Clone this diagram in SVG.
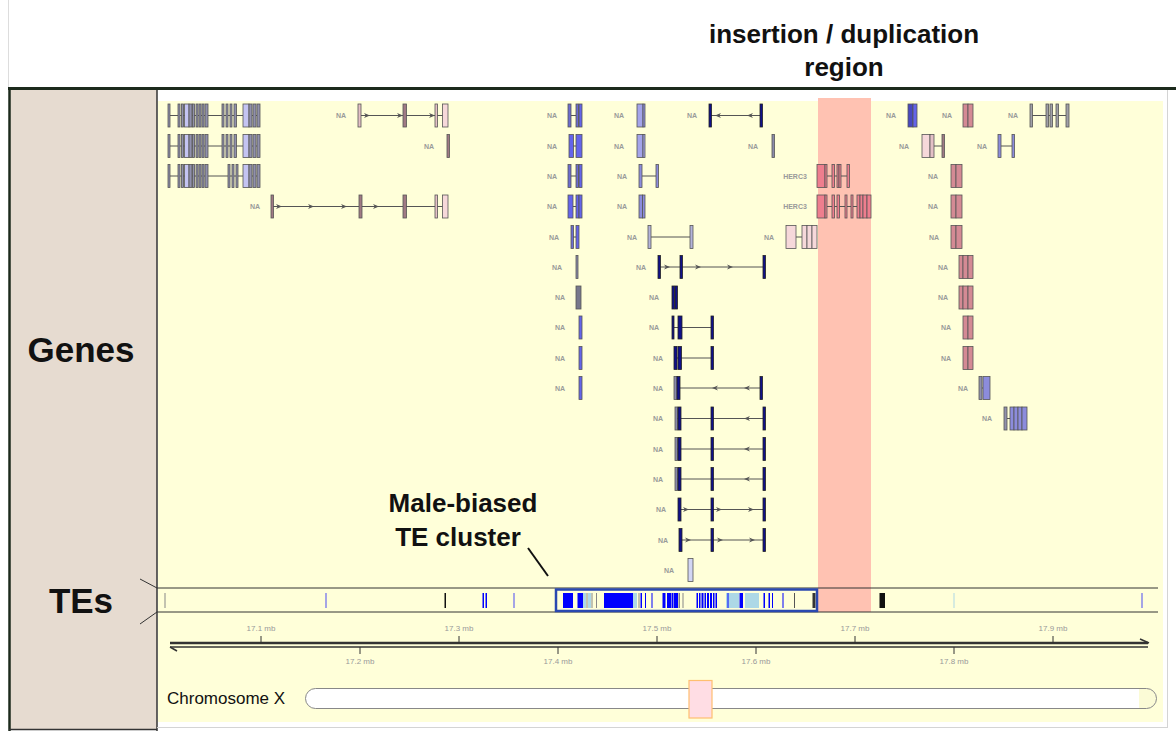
<svg xmlns="http://www.w3.org/2000/svg" xmlns:xlink="http://www.w3.org/1999/xlink" width="1176" height="731" viewBox="0 0 1176 731">
<style>
.e{stroke:#555;stroke-width:0.8}
.in{stroke:#555;stroke-width:1;fill:none}
.na{font-family:"Liberation Sans",Arial,sans-serif;font-weight:bold;font-size:7px;fill:#9a9a9a;text-anchor:middle}
.tk{font-family:"Liberation Sans",Arial,sans-serif;font-size:8px;fill:#999;text-anchor:middle}
.big{font-family:"Liberation Sans",Arial,sans-serif;font-weight:bold;fill:#111;text-anchor:middle}
.g{fill:#9090ac}.lv{fill:#c4c4f2}.bm{fill:#6c6cd0}.bl{fill:#6464ea}.nb{fill:#4848c0}.lv2{fill:#a4a4ea}
.lb{fill:#8c8cdc}.lg{fill:#b4b4da}.nv{fill:#10108a;stroke:#222}.gb{fill:#8a8aaa}.dg{fill:#78788c}
.mv{fill:#a07a84}.pk{fill:#f6d8da}.pk2{fill:#e4c0c6}.rp{fill:#d48a94}.rd{fill:#ee7e8e}.g2{fill:#a0a0a8}.lv3{fill:#d2d6f4}
.tb{fill:#0000ff}.tl{fill:#add8e6}.tg{fill:#888}.tk2{fill:#111}
.ax{stroke:#333;fill:none}
</style>
<defs>
<path id="ar" d="M-3,-2.5 L3,0 L-3,2.5 L-1.2,0 Z" fill="#555"/>
<path id="al" d="M3,-2.5 L-3,0 L3,2.5 L1.2,0 Z" fill="#555"/>
<g id="clA">
<path class="in" d="M169 0H259"/>
<rect class="e g" x="168" y="-11.5" width="2" height="23"/>
<rect class="e g" x="178" y="-11.5" width="2" height="23"/>
<rect class="e g" x="181.5" y="-11.5" width="2" height="23"/>
<rect class="e lv" x="184.5" y="-11.5" width="4.5" height="23"/>
<rect class="e g" x="189" y="-11.5" width="3" height="23"/>
<rect class="e g" x="192.5" y="-11.5" width="2" height="23"/>
<rect class="e g" x="196" y="-11.5" width="2" height="23"/>
<rect class="e g" x="199" y="-11.5" width="2" height="23"/>
<rect class="e g" x="202" y="-11.5" width="2" height="23"/>
<rect class="e g" x="205" y="-11.5" width="3" height="23"/>
<rect class="e g" x="222" y="-11.5" width="2" height="23"/>
<rect class="e g" x="226" y="-11.5" width="2" height="23"/>
<rect class="e g" x="230" y="-11.5" width="2" height="23"/>
<rect class="e g" x="234" y="-11.5" width="2.5" height="23"/>
<rect class="e lv" x="243" y="-11.5" width="6" height="23"/>
<rect class="e g" x="249" y="-11.5" width="3" height="23"/>
<rect class="e g" x="253" y="-11.5" width="3" height="23"/>
<rect class="e g" x="257" y="-11.5" width="3" height="23"/>
</g>
<g id="clB">
<path class="in" d="M169 0H259"/>
<rect class="e g" x="168" y="-11.5" width="2" height="23"/>
<rect class="e g" x="178" y="-11.5" width="2" height="23"/>
<rect class="e g" x="181.5" y="-11.5" width="2" height="23"/>
<rect class="e lv" x="184.5" y="-11.5" width="4.5" height="23"/>
<rect class="e g" x="189" y="-11.5" width="3" height="23"/>
<rect class="e g" x="192.5" y="-11.5" width="2" height="23"/>
<rect class="e g" x="196" y="-11.5" width="2" height="23"/>
<rect class="e g" x="199" y="-11.5" width="2" height="23"/>
<rect class="e g" x="202" y="-11.5" width="2" height="23"/>
<rect class="e g" x="205" y="-11.5" width="3" height="23"/>
<rect class="e g" x="228" y="-11.5" width="2" height="23"/>
<rect class="e g" x="232" y="-11.5" width="2" height="23"/>
<rect class="e g" x="236" y="-11.5" width="2" height="23"/>
<rect class="e lv" x="243" y="-11.5" width="6" height="23"/>
<rect class="e g" x="249" y="-11.5" width="3" height="23"/>
<rect class="e g" x="253" y="-11.5" width="3" height="23"/>
<rect class="e g" x="257" y="-11.5" width="3" height="23"/>
</g>
<g id="navL">
<path class="in" d="M676 0H764"/>
<rect class="e gb" x="675" y="-11.5" width="2.5" height="23"/>
<rect class="e nv" x="678" y="-11.5" width="3" height="23"/>
<rect class="e nv" x="711" y="-11.5" width="2.5" height="23"/>
<use xlink:href="#al" x="747"/>
<rect class="e nv" x="763" y="-11.5" width="2.5" height="23"/>
</g>
<clipPath id="chrclip"><rect x="305.5" y="688.5" width="851" height="20" rx="10"/></clipPath>
</defs>

<g id="background">
<rect x="0" y="0" width="1176" height="731" fill="#ffffff"/>
<line x1="8.5" y1="0" x2="8.5" y2="88" stroke="#dddddd" stroke-width="1"/>
<rect x="9" y="89" width="148" height="640" fill="#e6dbd0"/>
<line x1="9.5" y1="88" x2="9.5" y2="731" stroke="#1c2a1c" stroke-width="2.5"/>
<line x1="157" y1="89" x2="157" y2="731" stroke="#333" stroke-width="1.5"/>
<line x1="9" y1="729.5" x2="157" y2="729.5" stroke="#333" stroke-width="1.5"/>
<line x1="157" y1="727.5" x2="1167" y2="727.5" stroke="#d4d4d4" stroke-width="1"/>
<line x1="1167.5" y1="90" x2="1167.5" y2="728" stroke="#d4d4d4" stroke-width="1"/>
<line x1="8" y1="88.5" x2="1176" y2="88.5" stroke="#1c2a1c" stroke-width="3"/>
<rect x="158" y="101" width="1005" height="621" fill="#ffffd9"/>
<rect x="818" y="98" width="53" height="514" fill="#ffc2b2"/>
</g>

<g id="title">
<text class="big" x="844" y="43" font-size="26">insertion / duplication</text>
<text class="big" x="844" y="76" font-size="26">region</text>
</g>

<g id="track-labels">
<text class="big" x="81" y="362" font-size="35">Genes</text>
<text class="big" x="81" y="613" font-size="35">TEs</text>
<line x1="140" y1="579" x2="157" y2="588" stroke="#333" stroke-width="1"/>
<line x1="140" y1="624" x2="157" y2="612" stroke="#333" stroke-width="1"/>
</g>

<g id="gene-row-1" transform="translate(0,115.5)">
<use xlink:href="#clA"/>
<text class="na" x="341" y="2.5">NA</text>
<path class="in" d="M360 0H447"/>
<use xlink:href="#ar" x="367"/><use xlink:href="#ar" x="400"/><use xlink:href="#ar" x="432"/>
<rect class="e pk2" x="358" y="-11.5" width="3" height="23"/>
<rect class="e mv" x="403" y="-11.5" width="3.5" height="23"/>
<rect class="e pk2" x="435" y="-11.5" width="2.5" height="23"/>
<rect class="e pk" x="442.5" y="-11.5" width="5.5" height="23"/>
<text class="na" x="552" y="2.5">NA</text>
<path class="in" d="M570 0H577"/>
<rect class="e bm" x="568" y="-11.5" width="3" height="23"/>
<rect class="e bm" x="576" y="-11.5" width="2.5" height="23"/>
<rect class="e bl" x="579" y="-11.5" width="3" height="23"/>
<text class="na" x="619" y="2.5">NA</text>
<rect class="e lv2" x="637" y="-11.5" width="6" height="23"/>
<rect class="e lb" x="643" y="-11.5" width="2" height="23"/>
<text class="na" x="692" y="2.5">NA</text>
<path class="in" d="M710 0H761"/>
<use xlink:href="#al" x="718"/><use xlink:href="#al" x="750"/>
<rect class="e nv" x="709" y="-11.5" width="2.5" height="23"/>
<rect class="e nv" x="760" y="-11.5" width="2.5" height="23"/>
<text class="na" x="891" y="2.5">NA</text>
<rect class="e nb" x="908" y="-11.5" width="5" height="23"/>
<rect class="e bl" x="913" y="-11.5" width="4" height="23"/>
<text class="na" x="947" y="2.5">NA</text>
<rect class="e rp" x="963" y="-11.5" width="5" height="23"/>
<rect class="e rp" x="968" y="-11.5" width="5" height="23"/>
<text class="na" x="1013" y="2.5">NA</text>
<path class="in" d="M1031 0H1068"/>
<rect class="e g2" x="1030" y="-11.5" width="2.5" height="23"/>
<rect class="e g2" x="1046" y="-11.5" width="2.5" height="23"/>
<rect class="e g2" x="1050" y="-11.5" width="2.5" height="23"/>
<rect class="e g2" x="1056" y="-11.5" width="2.5" height="23"/>
<rect class="e g2" x="1066" y="-11.5" width="3" height="23"/>
</g>

<g id="gene-row-2" transform="translate(0,146)">
<use xlink:href="#clA"/>
<text class="na" x="429" y="2.5">NA</text>
<rect class="e mv" x="447" y="-11.5" width="2.5" height="23"/>
<text class="na" x="552" y="2.5">NA</text>
<path class="in" d="M572 0H577"/>
<rect class="e bl" x="569" y="-11.5" width="4.5" height="23"/>
<rect class="e bl" x="576" y="-11.5" width="6" height="23"/>
<text class="na" x="619" y="2.5">NA</text>
<rect class="e lv2" x="637" y="-11.5" width="6" height="23"/>
<rect class="e lv2" x="643" y="-11.5" width="2" height="23"/>
<text class="na" x="753" y="2.5">NA</text>
<rect class="e gb" x="772" y="-11.5" width="2.5" height="23"/>
<text class="na" x="904" y="2.5">NA</text>
<path class="in" d="M930 0H943"/>
<rect class="e pk" x="922" y="-11.5" width="8" height="23"/>
<rect class="e pk2" x="930" y="-11.5" width="4" height="23"/>
<rect class="e mv" x="942" y="-11.5" width="2.5" height="23"/>
<text class="na" x="982" y="2.5">NA</text>
<path class="in" d="M999 0H1013"/>
<rect class="e lb" x="998" y="-11.5" width="3" height="23"/>
<rect class="e lb" x="1012" y="-11.5" width="2.5" height="23"/>
</g>

<g id="gene-row-3" transform="translate(0,176)">
<use xlink:href="#clB"/>
<text class="na" x="552" y="2.5">NA</text>
<path class="in" d="M570 0H577"/>
<rect class="e bm" x="568" y="-11.5" width="3" height="23"/>
<rect class="e bm" x="576" y="-11.5" width="2.5" height="23"/>
<rect class="e bl" x="579" y="-11.5" width="3" height="23"/>
<text class="na" x="622" y="2.5">NA</text>
<path class="in" d="M641 0H657"/>
<rect class="e lb" x="639" y="-11.5" width="3" height="23"/>
<rect class="e lb" x="656" y="-11.5" width="2.5" height="23"/>
<text class="na" x="795" y="2.5">HERC3</text>
<path class="in" d="M825 0H848"/>
<rect class="e rd" x="817" y="-11.5" width="8" height="23"/>
<rect class="e rd" x="825" y="-11.5" width="2" height="23"/>
<rect class="e rd" x="832" y="-11.5" width="2.5" height="23"/>
<rect class="e rd" x="837" y="-11.5" width="2" height="23"/>
<rect class="e rd" x="839" y="-11.5" width="2" height="23"/>
<rect class="e rd" x="847" y="-11.5" width="2.5" height="23"/>
<text class="na" x="933" y="2.5">NA</text>
<rect class="e rp" x="951" y="-11.5" width="5" height="23"/>
<rect class="e rp" x="956" y="-11.5" width="6" height="23"/>
</g>

<g id="gene-row-4" transform="translate(0,206.5)">
<text class="na" x="255" y="2.5">NA</text>
<path class="in" d="M272 0H447"/>
<use xlink:href="#ar" x="279"/><use xlink:href="#ar" x="311"/><use xlink:href="#ar" x="344"/><use xlink:href="#ar" x="376"/>
<rect class="e mv" x="271" y="-11.5" width="2.5" height="23"/>
<rect class="e mv" x="359" y="-11.5" width="3" height="23"/>
<rect class="e mv" x="403" y="-11.5" width="3.5" height="23"/>
<rect class="e pk2" x="435" y="-11.5" width="2.5" height="23"/>
<rect class="e pk" x="442.5" y="-11.5" width="5.5" height="23"/>
<text class="na" x="552" y="2.5">NA</text>
<path class="in" d="M572 0H577"/>
<rect class="e bl" x="568" y="-11.5" width="5" height="23"/>
<rect class="e bl" x="576" y="-11.5" width="3" height="23"/>
<rect class="e bl" x="579" y="-11.5" width="3" height="23"/>
<text class="na" x="622" y="2.5">NA</text>
<rect class="e lb" x="639" y="-11.5" width="3.5" height="23"/>
<rect class="e lb" x="642.5" y="-11.5" width="2.5" height="23"/>
<text class="na" x="795" y="2.5">HERC3</text>
<path class="in" d="M825 0H870"/>
<rect class="e rd" x="817" y="-11.5" width="8" height="23"/>
<rect class="e rd" x="825" y="-11.5" width="2" height="23"/>
<rect class="e rd" x="832" y="-11.5" width="2.5" height="23"/>
<rect class="e rd" x="837" y="-11.5" width="2.5" height="23"/>
<rect class="e rd" x="845" y="-11.5" width="2" height="23"/>
<rect class="e rd" x="851" y="-11.5" width="2" height="23"/>
<rect class="e rd" x="857" y="-11.5" width="3" height="23"/>
<rect class="e rd" x="860" y="-11.5" width="3" height="23"/>
<rect class="e rd" x="863" y="-11.5" width="4" height="23"/>
<rect class="e rd" x="867" y="-11.5" width="4" height="23"/>
<text class="na" x="933" y="2.5">NA</text>
<rect class="e rp" x="951" y="-11.5" width="5" height="23"/>
<rect class="e rp" x="956" y="-11.5" width="6" height="23"/>
</g>

<g id="gene-row-5" transform="translate(0,237)">
<text class="na" x="554" y="2.5">NA</text>
<path class="in" d="M573 0H577"/>
<rect class="e bm" x="571" y="-11.5" width="2.5" height="23"/>
<rect class="e bl" x="576" y="-11.5" width="3" height="23"/>
<text class="na" x="632" y="2.5">NA</text>
<path class="in" d="M650 0H691"/>
<rect class="e lg" x="648" y="-11.5" width="3" height="23"/>
<rect class="e lg" x="690" y="-11.5" width="3" height="23"/>
<text class="na" x="769" y="2.5">NA</text>
<path class="in" d="M796 0H803"/>
<rect class="e pk" x="786" y="-11.5" width="10" height="23"/>
<rect class="e pk" x="802" y="-11.5" width="5" height="23"/>
<rect class="e pk" x="807" y="-11.5" width="5" height="23"/>
<rect class="e pk" x="812" y="-11.5" width="5" height="23"/>
<text class="na" x="934" y="2.5">NA</text>
<rect class="e rp" x="951" y="-11.5" width="5" height="23"/>
<rect class="e rp" x="956" y="-11.5" width="6" height="23"/>
</g>

<g id="gene-row-6" transform="translate(0,267)">
<text class="na" x="557" y="2.5">NA</text>
<rect class="e gb" x="576" y="-11.5" width="2" height="23"/>
<text class="na" x="641" y="2.5">NA</text>
<path class="in" d="M659 0H764"/>
<use xlink:href="#ar" x="667"/><use xlink:href="#ar" x="698"/><use xlink:href="#ar" x="730"/>
<rect class="e nv" x="658" y="-11.5" width="2.5" height="23"/>
<rect class="e nv" x="680" y="-11.5" width="2.5" height="23"/>
<rect class="e nv" x="763" y="-11.5" width="2.5" height="23"/>
<text class="na" x="943" y="2.5">NA</text>
<rect class="e rp" x="959" y="-11.5" width="4" height="23"/>
<rect class="e rp" x="963" y="-11.5" width="5" height="23"/>
<rect class="e rp" x="968" y="-11.5" width="5" height="23"/>
</g>

<g id="gene-row-7" transform="translate(0,297.5)">
<text class="na" x="560" y="2.5">NA</text>
<rect class="e dg" x="576" y="-11.5" width="5" height="23"/>
<text class="na" x="654" y="2.5">NA</text>
<rect class="e nv" x="672" y="-11.5" width="2.5" height="23"/>
<rect class="e nv" x="675" y="-11.5" width="2.5" height="23"/>
<text class="na" x="943" y="2.5">NA</text>
<rect class="e rp" x="959" y="-11.5" width="4" height="23"/>
<rect class="e rp" x="963" y="-11.5" width="5" height="23"/>
<rect class="e rp" x="968" y="-11.5" width="5" height="23"/>
</g>

<g id="gene-row-8" transform="translate(0,327.5)">
<text class="na" x="560" y="2.5">NA</text>
<rect class="e bl" x="579" y="-11.5" width="3" height="23"/>
<text class="na" x="654" y="2.5">NA</text>
<path class="in" d="M673 0H712"/>
<rect class="e nv" x="672" y="-11.5" width="2" height="23"/>
<rect class="e nv" x="678" y="-11.5" width="4" height="23"/>
<rect class="e nv" x="711" y="-11.5" width="2.5" height="23"/>
<text class="na" x="946" y="2.5">NA</text>
<rect class="e rp" x="963" y="-11.5" width="5" height="23"/>
<rect class="e rp" x="968" y="-11.5" width="5" height="23"/>
</g>

<g id="gene-row-9" transform="translate(0,358)">
<text class="na" x="560" y="2.5">NA</text>
<rect class="e bl" x="579" y="-11.5" width="3" height="23"/>
<text class="na" x="658" y="2.5">NA</text>
<path class="in" d="M676 0H712"/>
<rect class="e nv" x="674" y="-11.5" width="3" height="23"/>
<rect class="e nv" x="678" y="-11.5" width="3.5" height="23"/>
<rect class="e nv" x="711" y="-11.5" width="2.5" height="23"/>
<text class="na" x="946" y="2.5">NA</text>
<rect class="e rp" x="963" y="-11.5" width="5" height="23"/>
<rect class="e rp" x="968" y="-11.5" width="5" height="23"/>
</g>

<g id="gene-row-10" transform="translate(0,388)">
<text class="na" x="560" y="2.5">NA</text>
<rect class="e bl" x="579" y="-11.5" width="3" height="23"/>
<text class="na" x="658" y="2.5">NA</text>
<path class="in" d="M676 0H761"/>
<use xlink:href="#al" x="715"/><use xlink:href="#al" x="747"/>
<rect class="e gb" x="674" y="-11.5" width="3" height="23"/>
<rect class="e nv" x="677" y="-11.5" width="3" height="23"/>
<rect class="e nv" x="760" y="-11.5" width="2.5" height="23"/>
<text class="na" x="963" y="2.5">NA</text>
<path class="in" d="M982 0H984"/>
<rect class="e g" x="979" y="-11.5" width="3" height="23"/>
<rect class="e lb" x="983" y="-11.5" width="7" height="23"/>
</g>

<g id="gene-row-11" transform="translate(0,418.5)">
<text class="na" x="658" y="2.5">NA</text>
<use xlink:href="#navL"/>
<text class="na" x="987" y="2.5">NA</text>
<path class="in" d="M1006 0H1011"/>
<rect class="e g" x="1004" y="-11.5" width="3" height="23"/>
<rect class="e lb" x="1010" y="-11.5" width="4" height="23"/>
<rect class="e lb" x="1014" y="-11.5" width="4" height="23"/>
<rect class="e lb" x="1018" y="-11.5" width="4" height="23"/>
<rect class="e lb" x="1022" y="-11.5" width="5" height="23"/>
</g>

<g id="gene-row-12" transform="translate(0,449)">
<text class="na" x="658" y="2.5">NA</text>
<use xlink:href="#navL"/>
</g>

<g id="gene-row-13" transform="translate(0,479)">
<text class="na" x="658" y="2.5">NA</text>
<use xlink:href="#navL"/>
</g>

<g id="gene-row-14" transform="translate(0,509.5)">
<text class="na" x="661" y="2.5">NA</text>
<path class="in" d="M680 0H764"/>
<use xlink:href="#ar" x="686"/><use xlink:href="#ar" x="719"/><use xlink:href="#ar" x="751"/>
<rect class="e nv" x="678" y="-11.5" width="3" height="23"/>
<rect class="e nv" x="711" y="-11.5" width="2.5" height="23"/>
<rect class="e nv" x="763" y="-11.5" width="2.5" height="23"/>
</g>

<g id="gene-row-15" transform="translate(0,540)">
<text class="na" x="663" y="2.5">NA</text>
<path class="in" d="M681 0H764"/>
<use xlink:href="#ar" x="688"/><use xlink:href="#ar" x="720"/><use xlink:href="#ar" x="752"/>
<rect class="e nv" x="679" y="-11.5" width="3" height="23"/>
<rect class="e nv" x="711" y="-11.5" width="2.5" height="23"/>
<rect class="e nv" x="763" y="-11.5" width="2.5" height="23"/>
</g>

<g id="gene-row-16" transform="translate(0,570)">
<text class="na" x="669" y="2.5">NA</text>
<rect class="e lv3" x="688" y="-11.5" width="5" height="23"/>
</g>

<g id="te-track">
<line x1="157" y1="588" x2="1158" y2="588" stroke="#333" stroke-width="1"/>
<line x1="157" y1="612" x2="1158" y2="612" stroke="#333" stroke-width="1"/>
<g transform="translate(0,593)">
<rect class="tg" x="164.5" y="0" width="1" height="15"/>
<rect class="tb" x="325.5" y="0" width="1" height="15" opacity="0.7"/>
<rect class="tk2" x="444.5" y="0" width="1.5" height="15"/>
<rect class="tb" x="482.5" y="0" width="1.5" height="15"/>
<rect class="tb" x="485.5" y="0" width="1.5" height="15"/>
<rect class="tb" x="513.5" y="0" width="1" height="15" opacity="0.7"/>
<rect class="tb" x="563" y="0" width="10" height="15"/>
<rect class="tb" x="577.5" y="0" width="5.5" height="15"/>
<rect class="tl" x="583" y="0" width="3" height="15"/>
<rect class="tg" x="586.5" y="0" width="1" height="15"/>
<rect class="tl" x="588" y="0" width="3" height="15"/>
<rect class="tg" x="591.5" y="0" width="1" height="15"/>
<rect class="tg" x="596" y="0" width="1" height="15"/>
<rect class="tb" x="604" y="0" width="29" height="15"/>
<rect class="tl" x="633" y="0" width="4" height="15"/>
<rect class="tg" x="638.5" y="0" width="1" height="15"/>
<rect class="tb" x="640.5" y="0" width="1.5" height="15"/>
<rect class="tb" x="645" y="0" width="1" height="15"/>
<rect class="tb" x="651.5" y="0" width="1" height="15"/>
<rect class="tb" x="662.5" y="0" width="3" height="15"/>
<rect class="tb" x="667" y="0" width="4" height="15"/>
<rect class="tb" x="671.5" y="0" width="2" height="15"/>
<rect class="tb" x="674" y="0" width="4" height="15"/>
<rect class="tg" x="678.5" y="0" width="1.5" height="15"/>
<rect class="tg" x="682.5" y="0" width="1" height="15"/>
<rect class="tb" x="696.5" y="0" width="1.5" height="15"/>
<rect class="tb" x="699" y="0" width="1.5" height="15"/>
<rect class="tb" x="701.5" y="0" width="2" height="15"/>
<rect class="tb" x="704.5" y="0" width="1.5" height="15"/>
<rect class="tb" x="707" y="0" width="2" height="15"/>
<rect class="tb" x="710" y="0" width="2" height="15"/>
<rect class="tb" x="713" y="0" width="1.5" height="15"/>
<rect class="tb" x="715.5" y="0" width="1.5" height="15"/>
<rect class="tl" x="726" y="0" width="13" height="15"/>
<rect class="tb" x="727.5" y="0" width="1" height="15"/>
<rect class="tb" x="739.5" y="0" width="3.5" height="15"/>
<rect class="tl" x="745" y="0" width="14" height="15"/>
<rect class="tb" x="763.5" y="0" width="1.5" height="15"/>
<rect class="tb" x="768.5" y="0" width="1.5" height="15"/>
<rect class="tb" x="772" y="0" width="1" height="15"/>
<rect class="tb" x="782.5" y="0" width="1" height="15"/>
<rect x="794" y="0" width="1" height="15" fill="#555"/>
<rect x="812.5" y="0" width="3" height="15" fill="#333"/>
<rect class="tk2" x="879.5" y="0" width="5.5" height="15"/>
<rect class="tl" x="953.5" y="0" width="1" height="15"/>
<rect class="tb" x="1141.5" y="0" width="1" height="15" opacity="0.7"/>
</g>
</g>

<g id="te-cluster-box">
<rect x="556" y="589.5" width="261" height="21.5" fill="none" stroke="#2a48b0" stroke-width="2.5"/>
</g>

<g id="axis">
<path class="ax" d="M170 643H1148" stroke-width="2.5"/>
<path class="ax" d="M1149 643L1140 639" stroke-width="1.5"/>
<path class="ax" d="M170 647H1148" stroke-width="1.5"/>
<path class="ax" d="M170 647L177 651" stroke-width="1.5"/>
<path class="ax" d="M261 636V643M459 636V643M657 636V643M855 636V643M1053 636V643" stroke-width="1"/>
<path class="ax" d="M360 647V654M558 647V654M756 647V654M954 647V654" stroke-width="1"/>
<text class="tk" x="261" y="631">17.1 mb</text>
<text class="tk" x="459" y="631">17.3 mb</text>
<text class="tk" x="657" y="631">17.5 mb</text>
<text class="tk" x="855" y="631">17.7 mb</text>
<text class="tk" x="1053" y="631">17.9 mb</text>
<text class="tk" x="360" y="664">17.2 mb</text>
<text class="tk" x="558" y="664">17.4 mb</text>
<text class="tk" x="756" y="664">17.6 mb</text>
<text class="tk" x="954" y="664">17.8 mb</text>
</g>

<g id="chromosome">
<text x="167" y="704" font-family="Liberation Sans, Arial, sans-serif" font-size="17" fill="#111">Chromosome X</text>
<rect x="305.5" y="688.5" width="851" height="20" rx="10" fill="#ffffff"/>
<rect x="1139" y="688" width="20" height="22" fill="#fbfbd6" clip-path="url(#chrclip)"/>
<rect x="305.5" y="688.5" width="851" height="20" rx="10" fill="none" stroke="#888" stroke-width="1"/>
<rect x="689" y="680.5" width="23" height="37.5" fill="#ffdde4" stroke="#ffbf70" stroke-width="1.2"/>
</g>

<g id="annotation">
<text class="big" x="463" y="512" font-size="26">Male-biased</text>
<text class="big" x="458" y="546" font-size="26">TE cluster</text>
<line x1="528" y1="548" x2="548" y2="576" stroke="#111" stroke-width="2"/>
</g>
</svg>
